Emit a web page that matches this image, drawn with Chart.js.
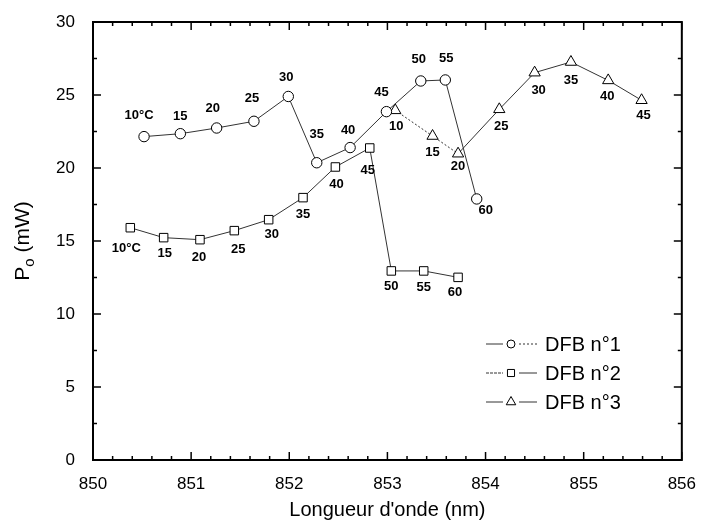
<!DOCTYPE html>
<html>
<head>
<meta charset="utf-8">
<script src="https://cdn.jsdelivr.net/npm/chart.js@4.4.1/dist/chart.umd.min.js"></script>
<style>
  html, body { margin: 0; padding: 0; background: #fff; }
  #wrap { width: 702px; height: 521px; }
</style>
</head>
<body>
<div id="wrap"><canvas id="chartPo"></canvas></div>
<script>
const FONT = "'Liberation Sans', Arial, sans-serif";
const INK = '#000';
const LINE = '#333';

// DFB n°1 (cercles)
const lambda1 = [850.52, 850.89, 851.26, 851.64, 851.99, 852.28, 852.62, 852.99, 853.34, 853.59, 853.91];
const power1  = [22.15, 22.35, 22.74, 23.2, 24.9, 20.36, 21.4, 23.86, 25.96, 26.03, 17.88];
const temps1  = ['10°C', '15', '20', '25', '30', '35', '40', '45', '50', '55', '60'];

// DFB n°2 (carrés)
const lambda2 = [850.38, 850.72, 851.09, 851.44, 851.79, 852.14, 852.47, 852.82, 853.04, 853.37, 853.72];
const power2  = [15.91, 15.23, 15.09, 15.71, 16.46, 17.97, 20.07, 21.37, 12.95, 12.95, 12.51];
const temps2  = ['10°C', '15', '20', '25', '30', '35', '40', '45', '50', '55', '60'];

// DFB n°3 (triangles)
const lambda3 = [853.08, 853.46, 853.72, 854.14, 854.50, 854.87, 855.25, 855.59];
const power3  = [23.95, 22.19, 20.98, 24.02, 26.53, 27.26, 26.0, 24.64];
const temps3  = ['10', '15', '20', '25', '30', '35', '40', '45'];

const xTicks = [850, 851, 852, 853, 854, 855, 856];
const yTicks = [0, 5, 10, 15, 20, 25, 30];

// label offsets (px) from each marker
const off1 = [[-5,-21],[0,-17],[-4,-20],[-2,-23],[-2,-19],[0,-28],[-2,-17],[-5,-19],[-2,-22],[1,-22],[9,11]];
const off2 = [[-4,21],[1,16],[-1,18],[4,19],[3,15],[0,17],[1,17],[-2,22],[0,15],[0,16],[-3,15]];
const off3 = [[1,16],[0,16],[0,13],[2,17],[4,18],[0,18],[-1,16],[2,15]];

const pts = (xs, ys) => xs.map((v, i) => ({ x: v, y: ys[i] }));

const series = [
  { xs: lambda1, ys: power1, t: temps1, off: off1 },
  { xs: lambda2, ys: power2, t: temps2, off: off2 },
  { xs: lambda3, ys: power3, t: temps3, off: off3 },
];

function seg(ctx, x1, y1, x2, y2, dash) {
  ctx.save();
  ctx.setLineDash(dash || []);
  ctx.beginPath(); ctx.moveTo(x1, y1); ctx.lineTo(x2, y2); ctx.stroke();
  ctx.restore();
}

const decor = {
  id: 'decor',
  afterDraw(chart) {
    const { ctx, chartArea: a, scales: { x, y } } = chart;
    ctx.save();
    ctx.strokeStyle = INK;
    ctx.lineWidth = 2;
    ctx.strokeRect(a.left, a.top, a.right - a.left, a.bottom - a.top);

    // inward ticks, all four sides
    ctx.lineWidth = 1.5;
    for (let i = 0; i <= 30; i++) {
      const px = x.getPixelForValue(850 + i * 0.2);
      const len = i % 5 === 0 ? 8 : 4;
      seg(ctx, px, a.bottom, px, a.bottom - len);
      seg(ctx, px, a.top, px, a.top + len);
    }
    for (let i = 0; i <= 12; i++) {
      const py = y.getPixelForValue(i * 2.5);
      const len = i % 2 === 0 ? 8 : 4;
      seg(ctx, a.left, py, a.left + len, py);
      seg(ctx, a.right, py, a.right - len, py);
    }

    // temperature labels
    ctx.fillStyle = INK;
    ctx.font = 'bold 13px ' + FONT;
    ctx.textAlign = 'center';
    ctx.textBaseline = 'middle';
    series.forEach(s => {
      s.t.forEach((lab, i) => {
        const px = x.getPixelForValue(s.xs[i]) + s.off[i][0];
        const py = y.getPixelForValue(s.ys[i]) + s.off[i][1];
        ctx.fillText(lab, px, py);
      });
    });

    // axis titles
    ctx.font = '20px ' + FONT;
    ctx.textBaseline = 'alphabetic';
    ctx.fillText("Longueur d'onde (nm)", (a.left + a.right) / 2, 516);

    ctx.save();
    ctx.translate(29, (a.top + a.bottom) / 2);
    ctx.rotate(-Math.PI / 2);
    ctx.textAlign = 'left';
    const big = '21px ' + FONT, small = '15px ' + FONT;
    ctx.font = big; const wP = ctx.measureText('P').width; const wR = ctx.measureText(' (mW)').width;
    ctx.font = small; const wo = ctx.measureText('o').width;
    let cx = -(wP + wo + wR) / 2;
    ctx.font = big; ctx.fillText('P', cx, 0); cx += wP;
    ctx.font = small; ctx.fillText('o', cx, 5); cx += wo;
    ctx.font = big; ctx.fillText(' (mW)', cx, 0);
    ctx.restore();

    // legend
    const rows = [
      { y: 344, style: 'circle', r: 4, d1: [], d2: [2, 2] },
      { y: 373, style: 'rect', r: 5, d1: [3, 1], d2: [] },
      { y: 402, style: 'triangle', r: 5.5, d1: [], d2: [] },
    ];
    ctx.lineWidth = 1;
    ctx.strokeStyle = LINE;
    rows.forEach((r, k) => {
      seg(ctx, 486, r.y, 503, r.y, r.d1);
      seg(ctx, 519, r.y, 537, r.y, r.d2);
      ctx.save();
      ctx.fillStyle = '#fff'; ctx.strokeStyle = INK; ctx.lineWidth = 1;
      Chart.helpers.drawPoint(ctx, { pointStyle: r.style, radius: r.r, rotation: 0, borderWidth: 1 }, 511, r.y);
      ctx.restore();
      ctx.fillStyle = INK;
      ctx.font = '20px ' + FONT;
      ctx.textAlign = 'left';
      ctx.textBaseline = 'middle';
      ctx.fillText('DFB n°' + (k + 1), 545, r.y + 1);
    });
    ctx.restore();
  }
};

const common = {
  showLine: true,
  borderColor: LINE,
  borderWidth: 1,
  pointBackgroundColor: '#fff',
  pointBorderColor: INK,
  pointBorderWidth: 1,
  tension: 0,
};

new Chart(document.getElementById('chartPo').getContext('2d'), {
  type: 'scatter',
  data: {
    datasets: [
      { ...common, label: 'DFB n°1', data: pts(lambda1, power1), pointStyle: 'circle', pointRadius: 5.2, pointHoverRadius: 5.2 },
      { ...common, label: 'DFB n°2', data: pts(lambda2, power2), pointStyle: 'rect', pointRadius: 6, pointHoverRadius: 6 },
      { ...common, label: 'DFB n°3', data: pts(lambda3, power3), pointStyle: 'triangle', pointRadius: 6.5, pointHoverRadius: 6.5,
        segment: { borderDash: c => c.p0DataIndex < 2 ? [2, 2] : undefined } },
    ]
  },
  options: {
    responsive: true,
    maintainAspectRatio: false,
    animation: false,
    layout: { padding: { top: 22, right: 14, left: 0, bottom: 0 } },
    plugins: { legend: { display: false }, tooltip: { enabled: false } },
    scales: {
      x: {
        type: 'linear', min: 850, max: 856,
        afterFit: s => { s.height = 61; },
        afterBuildTicks: s => { s.ticks = xTicks.map(v => ({ value: v })); },
        grid: { display: false },
        border: { display: false },
        ticks: { color: INK, font: { family: FONT, size: 17 }, padding: 6 }
      },
      y: {
        type: 'linear', min: 0, max: 30,
        afterFit: s => { s.width = 93; },
        afterBuildTicks: s => { s.ticks = yTicks.map(v => ({ value: v })); },
        grid: { display: false },
        border: { display: false },
        ticks: { color: INK, font: { family: FONT, size: 17 }, padding: 10 }
      }
    }
  },
  plugins: [decor]
});
</script>
</body>
</html>
